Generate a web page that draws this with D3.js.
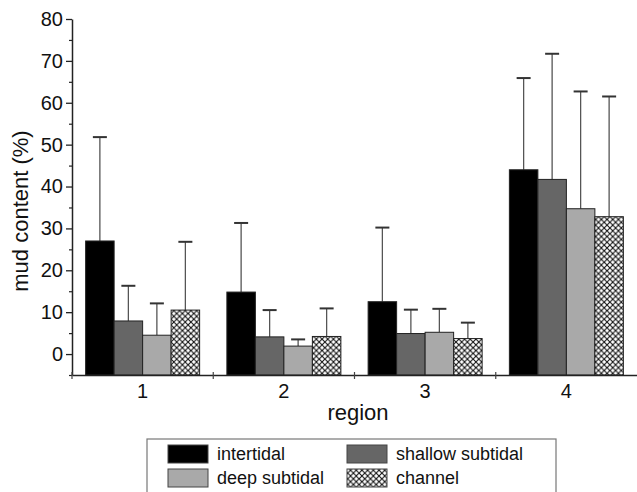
<!DOCTYPE html>
<html>
<head>
<meta charset="utf-8">
<script src="https://cdn.jsdelivr.net/npm/d3@7"></script>
<style>
  body { margin: 0; background: #fff; }
  svg { display: block; font-family: "Liberation Sans", Arial, sans-serif; }
</style>
</head>
<body>
<div id="chart"></div>
<script>
// data
let regions = ["1", "2", "3", "4"]
let habitats = ["intertidal", "shallow subtidal", "deep subtidal", "channel"]
let intertidal = [27.0, 14.8, 12.5, 44.0]
let shallowSubtidal = [7.9, 4.1, 4.9, 41.7]
let deepSubtidal = [4.5, 1.9, 5.2, 34.7]
let channel = [10.5, 4.2, 3.7, 32.8]
// standard deviations (upper whisker only)
let sdIntertidal = [24.8, 16.5, 17.7, 21.9]
let sdShallow = [8.4, 6.4, 5.7, 30.0]
let sdDeep = [7.6, 1.6, 5.6, 28.0]
let sdChannel = [16.3, 6.7, 3.8, 28.7]
let yTicks = [0, 10, 20, 30, 40, 50, 60, 70, 80]
let yMinorTicks = [-5, 5, 15, 25, 35, 45, 55, 65, 75]

function createBarChart(){
    let width = 637, height = 492
    let margin = {top: 19, right: 0, bottom: 117, left: 72}

    let svg = d3.select('#chart')
        .append('svg')
        .attr('width', width)
        .attr('height', height)

    let means = [intertidal, shallowSubtidal, deepSubtidal, channel]
    let sds = [sdIntertidal, sdShallow, sdDeep, sdChannel]
    let fills = ["#000000", "#666666", "#a9a9a9", "url(#hatch)"]

    // crosshatch pattern for channel
    let defs = svg.append('defs')
    let pat = defs.append('pattern')
        .attr('id', 'hatch')
        .attr('patternUnits', 'userSpaceOnUse')
        .attr('width', 5.7)
        .attr('height', 5.7)
    pat.append('rect').attr('width', 5.7).attr('height', 5.7).attr('fill', '#fff')
    pat.append('path')
        .attr('d', 'M0,0 L5.7,5.7 M5.7,0 L0,5.7')
        .attr('stroke', '#111')
        .attr('stroke-width', 1.1)

    let x = d3.scaleBand()
        .domain(regions)
        .range([margin.left, width - margin.right])
        .padding(0)

    let groupW = 114
    let xInner = d3.scaleBand()
        .domain(habitats)
        .range([(x.bandwidth() - groupW) / 2, (x.bandwidth() + groupW) / 2])
        .padding(0)

    let y = d3.scaleLinear()
        .domain([-5, 80])
        .range([height - margin.bottom, margin.top])

    // bars
    habitats.forEach(function(h, j){
        let rows = regions.map(function(r, i){ return {region: r, mean: means[j][i], sd: sds[j][i]} })
        let g = svg.append('g')

        g.selectAll('line.err')
            .data(rows)
            .enter()
            .append('line')
            .attr('class', 'err')
            .attr('x1', d => x(d.region) + xInner(h) + xInner.bandwidth() / 2)
            .attr('x2', d => x(d.region) + xInner(h) + xInner.bandwidth() / 2)
            .attr('y1', d => y(d.mean))
            .attr('y2', d => y(d.mean + d.sd))
            .attr('stroke', '#555')
            .attr('stroke-width', 1.3)

        g.selectAll('line.cap')
            .data(rows)
            .enter()
            .append('line')
            .attr('class', 'cap')
            .attr('x1', d => x(d.region) + xInner(h) + xInner.bandwidth() / 2 - 7)
            .attr('x2', d => x(d.region) + xInner(h) + xInner.bandwidth() / 2 + 7)
            .attr('y1', d => y(d.mean + d.sd))
            .attr('y2', d => y(d.mean + d.sd))
            .attr('stroke', '#333')
            .attr('stroke-width', 2)

        g.selectAll('rect')
            .data(rows)
            .enter()
            .append('rect')
            .attr('x', d => x(d.region) + xInner(h))
            .attr('y', d => y(d.mean))
            .attr('width', xInner.bandwidth())
            .attr('height', d => y(-5) - y(d.mean))
            .attr('fill', fills[j])
            .attr('stroke', '#222')
            .attr('stroke-width', 1)
    })

    // y axis
    let yAxis = svg.append('g')
        .attr('transform', 'translate(' + margin.left + ',0)')
        .call(d3.axisLeft(y).tickValues(yTicks).tickSize(6).tickPadding(3).tickSizeOuter(0))
    yAxis.selectAll('text').style('font-size', '20px').attr('fill', '#111')
    yAxis.select('.domain').attr('stroke', '#222').attr('stroke-width', 1.5)
    yAxis.selectAll('.tick line').attr('stroke', '#222').attr('stroke-width', 1.3)

    svg.append('g')
        .attr('transform', 'translate(' + margin.left + ',0)')
        .call(d3.axisLeft(y).tickValues(yMinorTicks).tickSize(3).tickFormat('').tickSizeOuter(0))
        .call(g => g.select('.domain').remove())
        .selectAll('line').attr('stroke', '#222').attr('stroke-width', 1.2)

    // x axis
    let xAxis = svg.append('g')
        .attr('transform', 'translate(0,' + y(-5) + ')')
        .call(d3.axisBottom(x).tickSize(0).tickPadding(9).tickSizeOuter(0))
    xAxis.selectAll('text').style('font-size', '20px').attr('fill', '#111')
    xAxis.select('.domain').attr('stroke', '#222').attr('stroke-width', 1.5)

    // small ticks at group boundaries
    let bounds = regions.slice(0, 3).map(r => x(r) + x.bandwidth())
    bounds.unshift(margin.left)
    svg.append('g').selectAll('line')
        .data(bounds)
        .enter()
        .append('line')
        .attr('x1', d => d)
        .attr('x2', d => d)
        .attr('y1', y(-5) - 3)
        .attr('y2', y(-5) + 4)
        .attr('stroke', '#444')
        .attr('stroke-width', 1.2)

    // axis titles
    svg.append('text')
        .attr('x', 358)
        .attr('y', 420)
        .attr('text-anchor', 'middle')
        .style('font-size', '22px')
        .attr('fill', '#111')
        .text('region')

    svg.append('text')
        .attr('transform', 'translate(28,211) rotate(-90)')
        .attr('text-anchor', 'middle')
        .style('font-size', '22px')
        .attr('fill', '#111')
        .text('mud content (%)')

    // legend
    let legend = svg.append('g')
    legend.append('rect')
        .attr('x', 147)
        .attr('y', 439)
        .attr('width', 409)
        .attr('height', 70)
        .attr('fill', 'none')
        .attr('stroke', '#777')
        .attr('stroke-width', 1.2)

    let legX = [168, 347]
    let legY = [445, 469]
    habitats.forEach(function(h, j){
        let lx = legX[j % 2], ly = legY[Math.floor(j / 2)]
        legend.append('rect')
            .attr('x', lx)
            .attr('y', ly)
            .attr('width', 40)
            .attr('height', 18)
            .attr('fill', fills[j])
            .attr('stroke', '#444')
            .attr('stroke-width', 1)
        legend.append('text')
            .attr('x', lx + 49)
            .attr('y', ly + 15)
            .style('font-size', '18px')
            .attr('fill', '#111')
            .text(h)
    })
}

createBarChart()
</script>
</body>
</html>
